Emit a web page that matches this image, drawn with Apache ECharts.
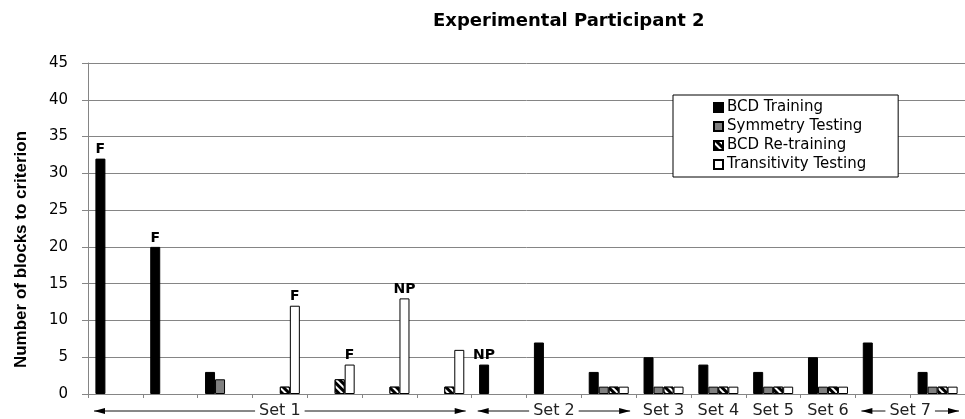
<!DOCTYPE html>
<html><head><meta charset="utf-8">
<script src="https://cdn.jsdelivr.net/npm/echarts@6/dist/echarts.min.js"></script>
<style>html,body{margin:0;padding:0;background:#fff}#c{width:965px;height:419px}</style>
</head><body><div id="c"></div>
<script>
const categories = ['1','2','3','4','5','6','7','8','9','10','11','12','13','14','15','16'];
const bcdTraining        = [32, 20, 3, null, null, null, null, 4, 7, 3, 5, 4, 3, 5, 7, 3];
const symmetryTesting    = [null, null, 2, null, null, null, null, null, null, 1, 1, 1, 1, 1, null, 1];
const bcdRetraining      = [null, null, null, 1, 2, 1, 1, null, null, 1, 1, 1, 1, 1, null, 1];
const transitivityTesting= [null, null, null, 12, 4, 13, 6, null, null, 1, 1, 1, 1, 1, null, 1];
const bcdNotes   = ['F','F','','','','','','NP','','','','','','','',''];
const transNotes = ['','','','F','F','NP','','','','','','','','','',''];
const yTicks = [0,5,10,15,20,25,30,35,40,45];
const setNames = ['Set 1','Set 2','Set 3','Set 4','Set 5','Set 6','Set 7'];
const setStart = [0, 7, 10, 11, 12, 13, 14];
const setEnd   = [6, 9, 10, 11, 12, 13, 15];

const FONT = 'DejaVu Sans';
const GRAY = '#858585';

function labelFrom(notes) {
  return {
    show: true, position: 'top', distance: 2,
    fontFamily: FONT, fontWeight: 'bold', fontSize: 14, color: '#000',
    formatter: p => notes[p.dataIndex] || ''
  };
}

function renderSet(params, api) {
  const s = api.value(0), e = api.value(2), idx = api.value(3);
  const w = api.size([1, 0])[0];
  const base = api.coord([s, 0]);
  const x0 = base[0] - w / 2;
  const x1 = api.coord([e, 0])[0] + w / 2;
  const y = base[1] + 17;
  const cx = (x0 + x1) / 2;
  const children = [];
  if (e > s) {
    const a0 = x0 + 6, a1 = x1 - 6;
    children.push({type: 'line', shape: {x1: a0, y1: y, x2: a1, y2: y}, style: {stroke: '#111', lineWidth: 1}});
    children.push({type: 'polygon', shape: {points: [[a0, y], [a0 + 11, y - 3], [a0 + 11, y + 3]]}, style: {fill: '#000'}});
    children.push({type: 'polygon', shape: {points: [[a1, y], [a1 - 11, y - 3], [a1 - 11, y + 3]]}, style: {fill: '#000'}});
  }
  children.push({type: 'text', x: cx, y: y, style: {
    text: setNames[idx], align: 'center', verticalAlign: 'middle',
    fontSize: 16, fontFamily: FONT, fill: '#222', backgroundColor: '#fff', padding: [0, 4]
  }});
  return {type: 'group', children};
}

const chart = echarts.init(document.getElementById('c'), null, {renderer: 'canvas'});
chart.setOption({
  animation: false,
  backgroundColor: '#fff',
  title: {
    text: 'Experimental Participant 2', left: 428, top: 7,
    textStyle: {fontFamily: FONT, fontWeight: 'bold', fontSize: 18, color: '#000'}
  },
  legend: {
    data: ['BCD Training', 'Symmetry Testing', 'BCD Re-training', 'Transitivity Testing'],
    orient: 'vertical', left: 673, top: 95,
    padding: [5, 32, 5, 40],
    borderColor: '#000', borderWidth: 1, backgroundColor: '#fff',
    itemWidth: 9, itemHeight: 9, itemGap: 4,
    icon: 'rect',
    textStyle: {fontFamily: FONT, fontSize: 15, color: '#000', padding: [0, 0, 0, -1]}
  },
  grid: {left: 88, right: -9, top: 63, bottom: 25, containLabel: false},
  xAxis: {
    type: 'category', data: categories, boundaryGap: true,
    axisLine: {lineStyle: {color: GRAY, width: 1}},
    axisTick: {show: true, length: 4, lineStyle: {color: GRAY}},
    axisLabel: {show: false},
    splitLine: {show: false}
  },
  yAxis: {
    type: 'value', min: yTicks[0], max: yTicks[yTicks.length - 1], interval: yTicks[1] - yTicks[0],
    name: 'Number of blocks to criterion', nameLocation: 'middle', nameRotate: 90, nameGap: 58,
    nameTextStyle: {fontFamily: 'Liberation Sans', fontWeight: 'bold', fontSize: 17, color: '#000', padding: [0, 42, 0, 0]},
    axisLine: {show: true, lineStyle: {color: GRAY, width: 1}},
    axisTick: {show: true, length: 6, lineStyle: {color: GRAY}},
    axisLabel: {fontFamily: FONT, fontSize: 15, color: '#000', margin: 20},
    splitLine: {show: true, lineStyle: {color: GRAY, width: 1}}
  },
  series: [
    {name: 'BCD Training', type: 'bar', data: bcdTraining, barWidth: 10, barGap: '0%',
     itemStyle: {color: '#000', borderColor: '#000', borderWidth: 1}, label: labelFrom(bcdNotes)},
    {name: 'Symmetry Testing', type: 'bar', data: symmetryTesting, barWidth: 10, barGap: '0%',
     itemStyle: {color: '#808080', borderColor: '#000', borderWidth: 1}},
    {name: 'BCD Re-training', type: 'bar', data: bcdRetraining, barWidth: 10, barGap: '0%',
     itemStyle: {color: '#000', borderColor: '#000', borderWidth: 1,
       decal: {symbol: 'rect', symbolSize: 1, color: '#fff', dashArrayX: [1, 0], dashArrayY: [2, 3], rotation: Math.PI / 4}}},
    {name: 'Transitivity Testing', type: 'bar', data: transitivityTesting, barWidth: 10, barGap: '0%',
     itemStyle: {color: '#fff', borderColor: '#000', borderWidth: 1}, label: labelFrom(transNotes)},
    {type: 'custom', silent: true, clip: false, z: 10,
     data: setStart.map((s, i) => [s, 0, setEnd[i], i]),
     encode: {x: [0, 2], y: 1},
     renderItem: renderSet}
  ]
});
</script>
</body></html>
